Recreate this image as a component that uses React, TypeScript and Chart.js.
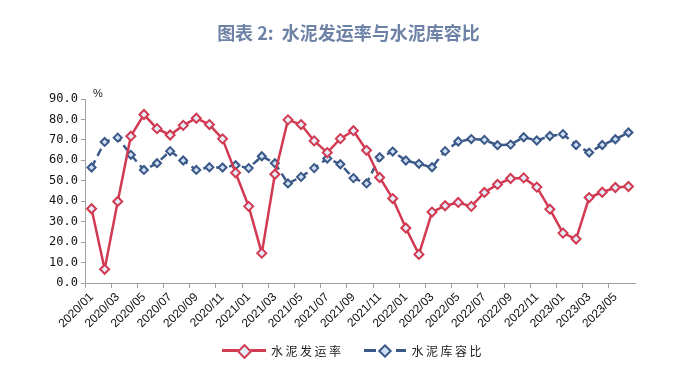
import React, { useEffect, useRef } from "react";
import { Chart, registerables } from "chart.js";

Chart.register(...registerables);

const months: string[] = [
  "2020/01","2020/02","2020/03","2020/04","2020/05","2020/06","2020/07","2020/08","2020/09","2020/10","2020/11","2020/12",
  "2021/01","2021/02","2021/03","2021/04","2021/05","2021/06","2021/07","2021/08","2021/09","2021/10","2021/11","2021/12",
  "2022/01","2022/02","2022/03","2022/04","2022/05","2022/06","2022/07","2022/08","2022/09","2022/10","2022/11","2022/12",
  "2023/01","2023/02","2023/03","2023/04","2023/05","2023/06",
];

const shipmentRate: number[] = [
  36.3, 6.7, 39.9, 71.8, 82.4, 75.5, 72.4, 77.1, 80.6, 77.5, 70.5, 53.9,
  37.5, 14.6, 53.2, 79.8, 77.5, 69.5, 63.8, 70.6, 74.5, 64.9, 51.6, 41.3,
  26.9, 14.0, 34.7, 37.8, 39.4, 37.5, 44.3, 48.2, 51.1, 51.4, 46.9, 36.1,
  24.4, 21.5, 41.8, 44.4, 46.7, 47.2,
];

const storageRatio: number[] = [
  56.5, 69.0, 71.1, 62.7, 55.3, 58.6, 64.5, 59.9, 55.3, 56.6, 56.5, 57.6,
  56.2, 62.0, 58.6, 48.7, 51.9, 56.2, 60.9, 58.1, 51.3, 48.7, 61.5, 64.3,
  59.9, 58.3, 56.6, 64.5, 69.2, 70.4, 70.0, 67.4, 67.7, 71.3, 69.7, 71.9,
  72.8, 67.5, 63.8, 67.5, 70.3, 73.6,
];

const seriesNames: string[] = ["水泥发运率", "水泥库容比"];
const titleText = "图表 2:  水泥发运率与水泥库容比";

const RED = "#d23a52";
const BLUE = "#3b5887";

export default function App() {
  const ref = useRef<HTMLCanvasElement | null>(null);

  useEffect(() => {
    if (!ref.current) return;
    const chart = new Chart(ref.current, {
      type: "line",
      data: {
        labels: months,
        datasets: [
          {
            label: seriesNames[0],
            data: shipmentRate,
            borderColor: RED,
            borderWidth: 2.5,
            pointStyle: "rectRot",
            pointRadius: 4.5,
            pointBorderWidth: 2,
            pointBorderColor: RED,
            pointBackgroundColor: "#e4eefa",
            tension: 0,
          },
          {
            label: seriesNames[1],
            data: storageRatio,
            borderColor: BLUE,
            borderWidth: 2.5,
            borderDash: [8, 5],
            pointStyle: "rectRot",
            pointRadius: 4,
            pointBorderWidth: 2,
            pointBorderColor: BLUE,
            pointBackgroundColor: "#cfe0f5",
            tension: 0,
          },
        ],
      },
      options: {
        animation: false,
        responsive: false,
        maintainAspectRatio: false,
        layout: { padding: { left: 40, right: 62, top: 99, bottom: 35 } },
        plugins: {
          legend: { display: false },
          title: { display: false },
          tooltip: { enabled: false },
        },
        scales: {
          x: {
            offset: true,
            afterFit: (s: any) => { s.height = 60; },
            border: { display: true, color: "#a0a0a0", width: 1 },
            grid: {
              offset: true,
              drawOnChartArea: false,
              drawTicks: true,
              tickLength: 5,
              color: (ctx: any) => (ctx.index % 2 === 0 ? "#a0a0a0" : "rgba(0,0,0,0)"),
            },
            ticks: {
              autoSkip: false,
              maxRotation: 45,
              minRotation: 45,
              padding: 2,
              color: "#111",
              font: { family: "Liberation Sans, Arial", size: 12 },
              callback: (_v: any, i: number) => (i % 2 === 0 ? months[i] : ""),
            },
          },
          y: {
            min: 0,
            max: 90,
            afterFit: (s: any) => { s.width = 45; },
            border: { display: true, color: "#a0a0a0", width: 1 },
            grid: { drawOnChartArea: false, drawTicks: true, tickLength: 4, color: "#a0a0a0" },
            ticks: {
              stepSize: 10,
              padding: 3,
              color: "#111",
              font: { family: "DejaVu Sans Mono, Liberation Mono", size: 12 },
              callback: (v: any) => Number(v).toFixed(1),
            },
          },
        },
      },
    });
    return () => chart.destroy();
  }, []);

  const legendText: React.CSSProperties = {
    fontFamily: "'Noto Sans CJK SC'",
    fontSize: 12,
    letterSpacing: 2.5,
    color: "#222",
  };

  return (
    <div style={{ position: "absolute", left: 0, top: 0, width: 697, height: 378, background: "#fff" }}>
      <canvas ref={ref} width={697} height={378} style={{ position: "absolute", left: 0, top: 0 }} />
      <div
        style={{
          position: "absolute", left: 0, top: 19, width: 697, textAlign: "center",
          fontFamily: "'Noto Sans CJK SC'", fontWeight: 700, fontSize: 18, lineHeight: "26px", color: "#6d82a6",
          whiteSpace: "pre",
        }}
      >
        {titleText}
      </div>
      <div style={{ position: "absolute", left: 93, top: 87, fontFamily: "Liberation Sans, Arial", fontSize: 11, color: "#222" }}>%</div>
      <div style={{ position: "absolute", left: 222, top: 341, display: "flex", alignItems: "center", height: 18 }}>
        <div style={{ position: "relative", width: 44, height: 18 }}>
          <div style={{ position: "absolute", left: 0, top: 8, width: 44, height: 3, background: RED }} />
          <div style={{ position: "absolute", left: 17, top: 5, width: 7, height: 7, transform: "rotate(45deg)", border: `2px solid ${RED}`, background: "#e4eefa" }} />
        </div>
        <span style={{ ...legendText, marginLeft: 5 }}>{seriesNames[0]}</span>
        <div style={{ position: "relative", width: 44, height: 18, marginLeft: 20 }}>
          <div style={{ position: "absolute", left: 0, top: 8, width: 12, height: 3, background: BLUE }} />
          <div style={{ position: "absolute", left: 16, top: 5, width: 6, height: 6, transform: "rotate(45deg)", border: `2px solid ${BLUE}`, background: "#cfe0f5" }} />
          <div style={{ position: "absolute", left: 32, top: 8, width: 10, height: 3, background: BLUE }} />
        </div>
        <span style={{ ...legendText, marginLeft: 4 }}>{seriesNames[1]}</span>
      </div>
    </div>
  );
}
